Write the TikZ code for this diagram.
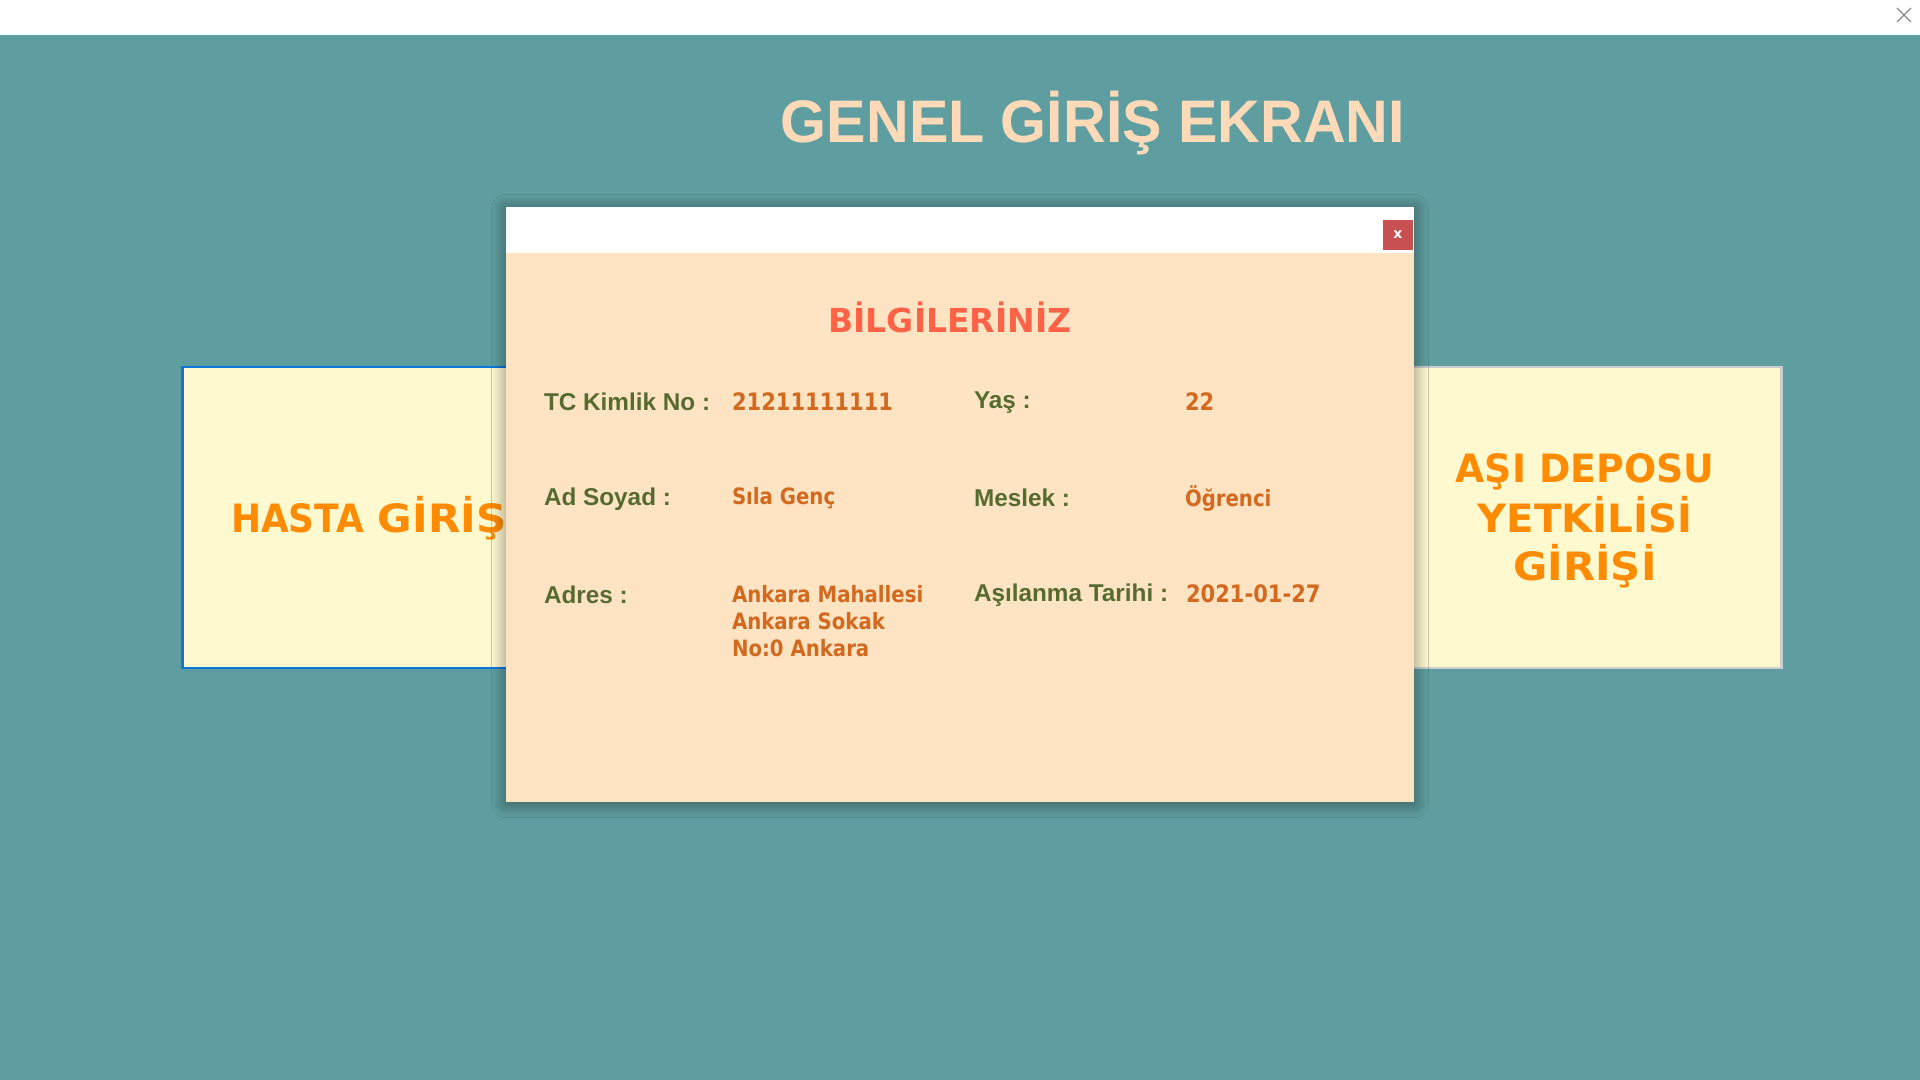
\documentclass[tikz,border=0pt]{standalone}
\usepackage{fontspec}
\usepackage{graphicx}
\setmainfont{Liberation Sans}
\newfontfamily\tah{DejaVu Sans}
\usetikzlibrary{shadows.blur}
\definecolor{bgteal}{HTML}{5F9EA0}
\definecolor{titlepeach}{HTML}{FFDAB9}
\definecolor{dlgbisque}{HTML}{FFE4C4}
\definecolor{btnfill}{HTML}{FFF9D0}
\definecolor{btnblue}{HTML}{0A78D8}
\definecolor{btngray}{HTML}{CDCDCD}
\definecolor{btnorange}{HTML}{FF8C00}
\definecolor{labgreen}{HTML}{556B2F}
\definecolor{valorange}{HTML}{D2691E}
\definecolor{headtomato}{HTML}{FF6347}
\definecolor{closered}{HTML}{C85050}
\definecolor{wingray}{HTML}{8A8A8A}
\newcommand\pxs[1]{\fontsize{\fpeval{#1*0.28453}pt}{\fpeval{#1*0.34}pt}\selectfont}
\newcommand\sx[2]{\scalebox{#1}[1]{#2}}
\begin{document}
\begin{tikzpicture}[x=0.01cm,y=-0.01cm,
  txt/.style={inner sep=0pt, outer sep=0pt, anchor=base west},
  lab/.style={txt, text=labgreen, font=\bfseries\pxs{24.3}},
  val/.style={txt, text=valorange, font=\tah\bfseries\pxs{24}},
  valsm/.style={txt, text=valorange, font=\tah\bfseries\pxs{22.5}},
  btntext/.style={inner sep=0pt, outer sep=0pt, anchor=base, text=btnorange, font=\tah\bfseries\pxs{39}},
  box/.style={inner sep=0pt, outer sep=0pt}
]
% page
\fill[white] (0,0) rectangle (1920,1080);
\fill[bgteal] (0,35) rectangle (1920,1080);
\coordinate (wxa) at (1897,8);
\coordinate (wxb) at (1911,22);
\coordinate (wxc) at (1897,22);
\coordinate (wxd) at (1911,8);
\draw[wingray, line width=0.012cm] (wxa) -- (wxb) (wxc) -- (wxd);
% title
\node[inner sep=0pt, anchor=base, text=titlepeach, font=\bfseries\pxs{60}] (title) at (1093,143) {\sx{0.985}{GENEL GİRİŞ EKRANI}};
% buttons
\node[box, fill=btnfill, draw=btnblue, line width=0.028cm, minimum width=3.92cm, minimum height=3.01cm] (hasta) at (379,517.5) {};
\node[btntext, anchor=base west] (hastatxt) at (231,533) {\sx{0.92}{HASTA} \sx{1.08}{GİRİŞİ}};
\node[box, fill=btnfill, draw=btngray, line width=0.028cm, minimum width=3.92cm, minimum height=3.01cm] (depo) at (1585,517.5) {};
\node[btntext] (depo1) at (1585,483) {\sx{0.97}{AŞI DEPOSU}};
\node[btntext] (depo2) at (1585,533) {\sx{1.03}{YETKİLİSİ}};
\node[btntext] (depo3) at (1585,581) {\sx{1.07}{GİRİŞİ}};
% dialog
\node[box, fill=dlgbisque, minimum width=9.08cm, minimum height=5.95cm,
  blur shadow={shadow xshift=0cm, shadow yshift=-0.015cm, shadow blur radius=0.14cm, shadow blur steps=25, shadow opacity=45}] (dlg) at (960,504.5) {};
\node[box, fill=white, minimum width=9.08cm, minimum height=0.46cm] (dlghead) at (960,230) {};
\node[box, fill=closered, minimum width=0.30cm, minimum height=0.30cm] (closebtn) at (1398,235) {};
\node[inner sep=0pt, text=white, font=\tah\bfseries\pxs{14}] (closex) at (1398,234.5) {x};
% heading
\node[inner sep=0pt, anchor=base, text=headtomato, font=\tah\bfseries\pxs{33}] (bilgi) at (950,333) {BİLGİLERİNİZ};
% row 1
\node[lab] (tcl) at (544,411) {TC Kimlik No :};
\node[val] (tcv) at (732,411) {\sx{0.876}{21211111111}};
\node[lab] (yasl) at (974,409) {Yaş :};
\node[val] (yasv) at (1185,411) {\sx{0.876}{22}};
% row 2
\node[lab] (adl) at (544,506) {Ad Soyad :};
\node[valsm] (adv) at (732,505) {\sx{0.876}{Sıla Genç}};
\node[lab] (mesl) at (974,507) {Meslek :};
\node[valsm] (mesv) at (1185,507) {\sx{0.876}{Öğrenci}};
% row 3
\node[lab] (adrl) at (544,604) {Adres :};
\node[valsm] (adr1) at (732,603) {\sx{0.876}{Ankara Mahallesi}};
\node[valsm] (adr2) at (732,630) {\sx{0.876}{Ankara Sokak}};
\node[valsm] (adr3) at (732,657) {\sx{0.876}{No:0 Ankara}};
\node[lab] (asil) at (974,602) {Aşılanma Tarihi :};
\node[val] (asiv) at (1186,603) {\sx{0.876}{2021-01-27}};
\end{tikzpicture}
\end{document}
